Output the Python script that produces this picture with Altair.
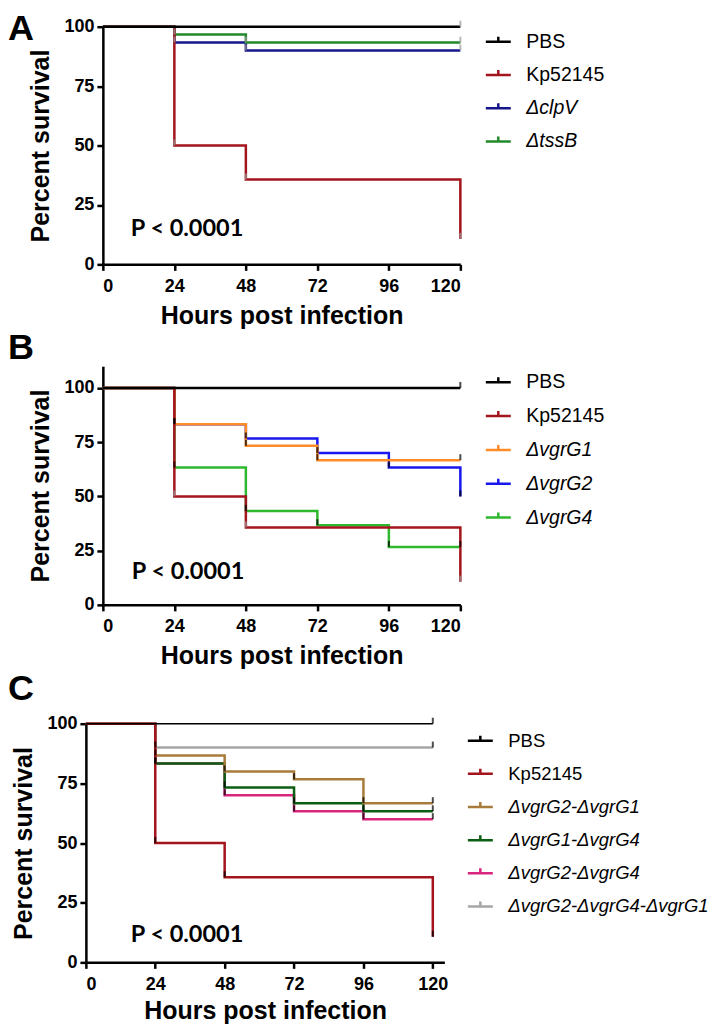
import altair as alt
import pandas as pd

X_TICKS = [0, 24, 48, 72, 96, 120]
Y_TICKS = [0, 25, 50, 75, 100]

# ---------- Panel A ----------
a_series = ["PBS", "Kp52145", "ΔclpV", "ΔtssB"]
a_colors = ["#000000", "#a3141c", "#16168c", "#238a2b"]
a_times = [[0, 120], [0, 24, 48, 120], [0, 24, 48, 120], [0, 24, 48, 120]]
a_values = [[100, 100], [100, 50, 35.7, 10.7], [100, 93.3, 90, 90], [100, 96.7, 93.3, 93.3]]
a_draw = ["ΔclpV", "ΔtssB", "Kp52145", "PBS"]

# ---------- Panel B ----------
b_series = ["PBS", "Kp52145", "ΔvgrG1", "ΔvgrG2", "ΔvgrG4"]
b_colors = ["#000000", "#a3141c", "#ff8c26", "#1818ee", "#2eb82e"]
b_times = [[0, 120], [0, 24, 48, 120], [0, 24, 48, 72, 120],
           [0, 24, 48, 72, 96, 120], [0, 24, 48, 72, 96, 120]]
b_values = [[100, 100], [100, 50, 35.7, 10.7], [100, 83.3, 73.3, 66.7, 66.7],
            [100, 83.3, 76.7, 70, 63.3, 50], [100, 63.3, 43.3, 36.7, 26.7, 26.7]]
b_draw = ["ΔvgrG2", "ΔvgrG4", "ΔvgrG1", "Kp52145", "PBS"]

# ---------- Panel C ----------
c_series = ["PBS", "Kp52145", "ΔvgrG2-ΔvgrG1", "ΔvgrG1-ΔvgrG4",
            "ΔvgrG2-ΔvgrG4", "ΔvgrG2-ΔvgrG4-ΔvgrG1"]
c_colors = ["#000000", "#a3141c", "#a87b3a", "#0c5e12", "#d9257d", "#a6a6a6"]
c_times = [[0, 120], [0, 24, 48, 120], [0, 24, 48, 72, 96, 120],
           [0, 24, 48, 72, 96, 120], [0, 24, 48, 72, 96, 120], [0, 24, 120]]
c_values = [[100, 100], [100, 50, 35.7, 10.7], [100, 86.7, 80, 76.7, 66.7, 66.7],
            [100, 83.3, 73.3, 66.7, 63.3, 63.3], [100, 83.3, 70, 63.3, 60, 60],
            [100, 90, 90]]
c_draw = ["ΔvgrG2-ΔvgrG4", "ΔvgrG1-ΔvgrG4", "ΔvgrG2-ΔvgrG1",
          "ΔvgrG2-ΔvgrG4-ΔvgrG1", "Kp52145", "PBS"]

P_TEXT = "P < 0.0001"


def build_df(series, times, values, draw):
    rows = []
    for name in draw:
        i = series.index(name)
        for t, v in zip(times[i], values[i]):
            rows.append({"series": name, "t": t, "v": v})
    return pd.DataFrame(rows)


def panel(letter, series, colors, times, values, draw, xmax, ymax, w, h,
          tick_color, pbs_width, letter_y, p_x, p_y,
          leg_x, leg_y, row_pad, leg_font, shift=0, title_pad=8):
    df = build_df(series, times, values, draw)
    ticks_df = df[df["t"] > 0]

    x = alt.X("t:Q",
              scale=alt.Scale(domain=[0, xmax], nice=False, zero=False,
                              range=[-shift, w]),
              axis=alt.Axis(values=X_TICKS, title="Hours post infection",
                            titlePadding=title_pad))
    y = alt.Y("v:Q", scale=alt.Scale(domain=[0, ymax], nice=False),
              axis=alt.Axis(values=Y_TICKS, title="Percent survival", offset=shift))

    lines = alt.Chart(df).mark_line(interpolate="step-after").encode(
        x=x, y=y,
        color=alt.Color(
            "series:N",
            scale=alt.Scale(domain=series, range=colors),
            legend=alt.Legend(
                title=None, orient="none", legendX=leg_x, legendY=leg_y,
                symbolType="M-1,0H1M0,0V-0.4", symbolSize=625,
                symbolStrokeWidth=2.5, labelFont="Liberation Sans",
                labelFontSize=leg_font, labelColor="black", labelOffset=14,
                rowPadding=row_pad, labelLimit=600, padding=0,
                labelFontStyle={"expr": "indexof(datum.label, 'Δ') == 0 ? 'italic' : 'normal'"},
            ),
        ),
        strokeWidth=alt.condition(alt.datum.series == "PBS",
                                  alt.value(pbs_width), alt.value(2.5)),
    )

    ticks = alt.Chart(ticks_df).mark_tick(
        orient="vertical", thickness=2, size=6, yOffset=-3
    ).encode(x="t:Q", y="v:Q", color=tick_color)

    letter_txt = alt.Chart(pd.DataFrame({"label": [letter]})).mark_text(
        font="Liberation Sans", fontWeight="bold", fontSize=36,
        align="left", baseline="top", color="black"
    ).encode(x=alt.value(-95), y=alt.value(letter_y), text="label:N")

    p_txt = alt.Chart(pd.DataFrame({"label": [P_TEXT]})).mark_text(
        font="Lato", fontWeight="bold", fontSize=23.5,
        align="left", baseline="alphabetic", color="black"
    ).encode(x=alt.value(p_x), y=alt.value(p_y), text="label:N")

    return alt.layer(lines, ticks, letter_txt, p_txt).properties(width=w, height=h)


chart_a = panel("A", a_series, a_colors, a_times, a_values, a_draw, 120, 100, 358, 238,
                alt.value("#9a9a9a"), 2.5, -15, 28, 210, 382, 1, 9.3, 19.5)
chart_b = panel("B", b_series, b_colors, b_times, b_values, b_draw, 120, 110, 358, 239,
                alt.condition(alt.datum.series == "Kp52145", alt.value("#9a9a9a"), alt.value("black")),
                2.5, -35, 29, 213, 382, 2, 9.9, 19.5)
chart_c = panel("C", c_series, c_colors, c_times, c_values, c_draw, 124, 100, 342, 239,
                alt.value("black"), 1.5, -52, 28, 219, 364, 3, 9.2, 18.5, shift=17,
                title_pad=5)

chart = alt.vconcat(chart_a, chart_b, chart_c, spacing=2).resolve_scale(
    color="independent"
).properties(
    padding={"top": 2, "left": 0, "right": 0, "bottom": 0}
).configure_view(stroke=None).configure_axis(
    grid=False,
    domainColor="black", domainWidth=2.5,
    tickColor="black", tickWidth=2.5, tickSize=6,
    labelFont="Liberation Sans", labelFontWeight="bold", labelFontSize=18,
    labelColor="black",
    titleFont="Liberation Sans", titleFontWeight="bold", titleFontSize=25,
    titleColor="black",
).configure_axisX(labelPadding=7).configure_axisY(
    labelPadding=3, titlePadding=10
)

chart.save("out.html", embed_options={"renderer": "svg", "actions": False})
